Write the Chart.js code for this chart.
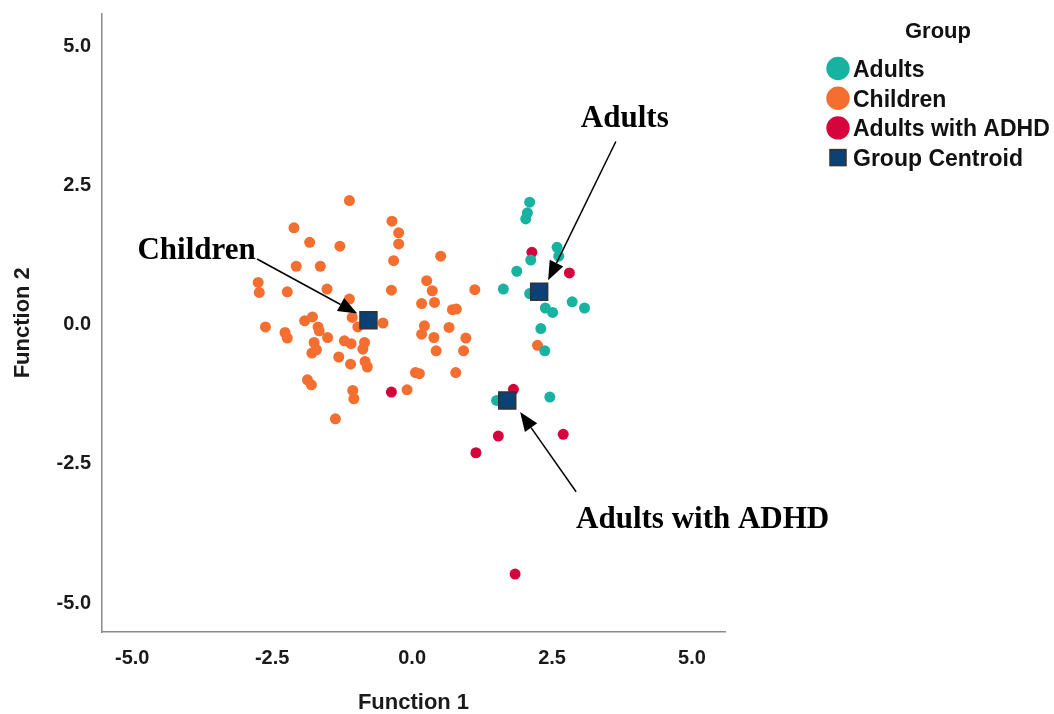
<!DOCTYPE html>
<html><head><meta charset="utf-8">
<script src="https://cdn.jsdelivr.net/npm/chart.js@4"></script>
<style>html,body{margin:0;padding:0;background:#fff}#wrap{width:1054px;height:714px;position:relative}</style>
</head><body><div id="wrap"><canvas id="c" width="1054" height="714"></canvas></div>
<script>
// ---- data ----
const groupNames = ['Adults', 'Children', 'Adults with ADHD', 'Group Centroid'];
const legendTitle = 'Group';
const xTitle = 'Function 1';
const yTitle = 'Function 2';
const tickValues = [-5, -2.5, 0, 2.5, 5];

const adultsX = [2.10, 2.06, 2.03, 2.59, 2.62, 2.12, 1.87, 1.63, 2.10, 2.38, 2.51, 2.86, 3.08, 2.30, 2.37, 2.46, 1.51];
const adultsY = [2.20, 2.01, 1.90, 1.39, 1.23, 1.16, 0.96, 0.64, 0.56, 0.30, 0.22, 0.41, 0.30, -0.07, -0.47, -1.30, -1.36];

const childrenX = [-1.12, -2.11, -0.36, -0.24, -0.24, -1.83, -1.29, -0.33, 0.51, -2.07, -1.64, -2.75, -2.73, -2.23, -1.52, -0.37, 0.26, 0.36, 1.12, -1.12, 0.17, 0.40, 0.72, 0.79, -2.62, -1.92, -1.78, -1.68, -1.66, -1.07, -0.97, -0.52, -2.27, -2.23, -1.51, -1.21, -1.09, -0.85, -0.88, -1.75, -1.71, -1.79, -1.31, -0.84, -0.80, -1.10, 0.22, 0.17, 0.39, 0.66, 0.96, 0.92, 0.43, 0.06, 0.13, 0.78, -1.87, -1.80, -1.06, -1.04, -0.09, -1.37, 2.24];
const childrenY = [2.23, 1.74, 1.86, 1.65, 1.45, 1.48, 1.41, 1.15, 1.23, 1.05, 1.05, 0.76, 0.58, 0.59, 0.64, 0.62, 0.79, 0.61, 0.63, 0.46, 0.38, 0.40, 0.27, 0.28, -0.04, 0.07, 0.14, -0.04, -0.11, 0.13, -0.04, 0.03, -0.14, -0.24, -0.23, -0.29, -0.34, -0.32, -0.44, -0.32, -0.45, -0.51, -0.58, -0.66, -0.76, -0.71, -0.02, -0.17, -0.23, -0.05, -0.24, -0.47, -0.47, -0.86, -0.88, -0.86, -0.99, -1.08, -1.18, -1.33, -1.17, -1.69, -0.37];

const adhdX = [2.14, 2.81, 1.81, -0.37, 1.54, 1.14, 2.70, 1.84];
const adhdY = [1.30, 0.93, -1.16, -1.21, -2.00, -2.30, -1.97, -4.48];

const centroidX = [2.27, -0.78, 1.70];
const centroidY = [0.59, 0.08, -1.36];

// annotation labels (positions in data units)
const annotations = [
  { text: 'Adults', x: 3.80, y: 3.55, fromX: 3.64, fromY: 3.29, toX: 2.43, toY: 0.80 },
  { text: 'Children', x: -3.85, y: 1.18, fromX: -2.77, fromY: 1.18, toX: -0.98, toY: 0.20 },
  { text: 'Adults with ADHD', x: 5.19, y: -3.66, fromX: 2.93, fromY: -3.00, toX: 1.93, toY: -1.57 }
];

// ---- styles ----
const colors = ['#18b3a0', '#f36e2f', '#d6043c', '#0c4176'];
const toPts = (xs, ys) => xs.map((x, i) => ({ x: x, y: ys[i] }));

const legendPlugin = {
  id: 'spssLegend',
  afterDraw(chart) {
    const ctx = chart.ctx;
    ctx.save();
    ctx.fillStyle = '#111';
    ctx.textBaseline = 'middle';
    ctx.textAlign = 'center';
    ctx.font = 'bold 22px "Liberation Sans", Arial, sans-serif';
    ctx.fillText(legendTitle, 938, 32);
    ctx.textAlign = 'left';
    ctx.font = 'bold 23px "Liberation Sans", Arial, sans-serif';
    groupNames.forEach((name, i) => {
      const cy = 68.5 + i * 29.7;
      if (i < 3) {
        ctx.beginPath();
        ctx.fillStyle = colors[i];
        ctx.arc(838, cy, 11.7, 0, Math.PI * 2);
        ctx.fill();
      } else {
        ctx.fillStyle = colors[3];
        ctx.strokeStyle = '#333';
        ctx.lineWidth = 1.5;
        ctx.fillRect(830, cy - 8, 16, 16);
        ctx.strokeRect(830, cy - 8, 16, 16);
      }
      ctx.fillStyle = '#111';
      ctx.fillText(name, 853, cy + 2);
    });
    ctx.restore();
  }
};

const annotPlugin = {
  id: 'annot',
  afterDatasetsDraw(chart) {
    const ctx = chart.ctx;
    const xs = chart.scales.x, ys = chart.scales.y;
    ctx.save();
    ctx.font = 'bold 31px "Liberation Serif", "Times New Roman", serif';
    ctx.textAlign = 'center';
    ctx.textBaseline = 'alphabetic';
    ctx.fillStyle = '#000';
    ctx.strokeStyle = '#000';
    annotations.forEach(a => {
      ctx.fillText(a.text, xs.getPixelForValue(a.x), ys.getPixelForValue(a.y));
      const x1 = xs.getPixelForValue(a.fromX), y1 = ys.getPixelForValue(a.fromY);
      const x2 = xs.getPixelForValue(a.toX), y2 = ys.getPixelForValue(a.toY);
      const ang = Math.atan2(y2 - y1, x2 - x1);
      const hl = 19, hw = 7.5;
      const bx = x2 - hl * Math.cos(ang), by = y2 - hl * Math.sin(ang);
      ctx.lineWidth = 1.5;
      ctx.beginPath();
      ctx.moveTo(x1, y1);
      ctx.lineTo(bx, by);
      ctx.stroke();
      ctx.beginPath();
      ctx.moveTo(x2, y2);
      ctx.lineTo(bx + hw * Math.sin(ang), by - hw * Math.cos(ang));
      ctx.lineTo(bx - hw * Math.sin(ang), by + hw * Math.cos(ang));
      ctx.closePath();
      ctx.fill();
    });
    ctx.restore();
  }
};

const tickFont = { family: '"Liberation Sans", Arial, sans-serif', size: 20, weight: 'bold' };
const titleFont = { family: '"Liberation Sans", Arial, sans-serif', size: 22, weight: 'bold' };

new Chart(document.getElementById('c'), {
  type: 'scatter',
  data: {
    datasets: [
      { label: groupNames[3], data: toPts(centroidX, centroidY), order: 0, pointStyle: 'rect', pointRadius: 12, backgroundColor: colors[3], borderColor: '#333', borderWidth: 1.5 },
      { label: groupNames[0], data: toPts(adultsX, adultsY), order: 1, pointRadius: 5.5, backgroundColor: colors[0], borderWidth: 0 },
      { label: groupNames[2], data: toPts(adhdX, adhdY), order: 2, pointRadius: 5.5, backgroundColor: colors[2], borderWidth: 0 },
      { label: groupNames[1], data: toPts(childrenX, childrenY), order: 3, pointRadius: 5.5, backgroundColor: colors[1], borderWidth: 0 }
    ]
  },
  options: {
    responsive: false,
    animation: false,
    devicePixelRatio: 1,
    events: [],
    layout: { padding: { left: 0, right: 329, top: 7, bottom: 0 } },
    plugins: { legend: { display: false }, tooltip: { enabled: false } },
    scales: {
      x: {
        type: 'linear', min: -5.54, max: 5.59,
        afterBuildTicks: s => { s.ticks = tickValues.map(v => ({ value: v })); },
        afterFit: s => { s.height = 82; s.paddingLeft = 0; s.paddingRight = 0; },
        grid: { display: false, drawTicks: false },
        border: { display: true, color: '#8a8a8a', width: 1.5 },
        ticks: { padding: 14, color: '#1a1a1a', font: tickFont, callback: v => v.toFixed(1) },
        title: { display: true, text: xTitle, color: '#1a1a1a', font: titleFont, padding: { top: 0, bottom: -2 } }
      },
      y: {
        type: 'linear', min: -5.52, max: 5.59,
        afterBuildTicks: s => { s.ticks = tickValues.map(v => ({ value: v })); },
        afterFit: s => { s.width = 102; s.paddingTop = 0; s.paddingBottom = 0; },
        grid: { display: false, drawTicks: false },
        border: { display: true, color: '#8a8a8a', width: 1.5 },
        ticks: { padding: 11, color: '#1a1a1a', font: tickFont, callback: v => v.toFixed(1) },
        title: { display: true, text: yTitle, color: '#1a1a1a', font: titleFont, padding: { top: 10, bottom: 0 } }
      }
    }
  },
  plugins: [annotPlugin, legendPlugin]
});
</script></body></html>
